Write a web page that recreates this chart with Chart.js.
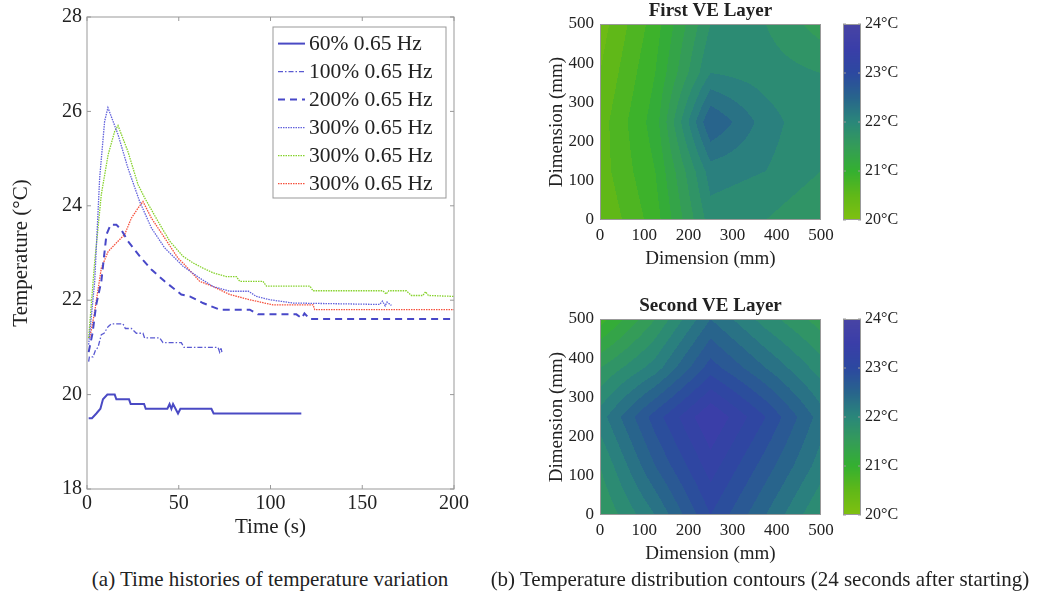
<!DOCTYPE html>
<html>
<head>
<meta charset="utf-8">
<script src="https://cdn.jsdelivr.net/npm/chart.js@4.4.1/dist/chart.umd.min.js"></script>
<style>
  body { margin: 0; background: #fff; width: 1039px; height: 596px; position: relative; overflow: hidden; font-family: "Liberation Serif", serif; }
  canvas { position: absolute; }
  .cap { position: absolute; top: 568px; font-size: 21px; line-height: 22px; color: #222; white-space: nowrap; transform: translateX(-50%); }
</style>
</head>
<body>
<canvas id="timeChart" width="480" height="540" style="left:0;top:0"></canvas>
<canvas id="layer1" width="310" height="280" style="left:530px;top:0"></canvas>
<canvas id="bar1" width="80" height="280" style="left:835px;top:0"></canvas>
<canvas id="layer2" width="310" height="280" style="left:530px;top:295px"></canvas>
<canvas id="bar2" width="80" height="280" style="left:835px;top:295px"></canvas>
<div class="cap" style="left:270px">(a) Time histories of temperature variation</div>
<div class="cap" style="left:760px">(b) Temperature distribution contours (24 seconds after starting)</div>
<script>
// ---- (a) time histories ----
var seriesLabels = ['60% 0.65 Hz', '100% 0.65 Hz', '200% 0.65 Hz', '300% 0.65 Hz', '300% 0.65 Hz', '300% 0.65 Hz'];

var s60Time = [0.9, 2.7, 5.1, 7.3, 8.7, 11.1, 15.1, 16.0, 22.9, 23.8, 31.1, 32.0, 43.8, 45.0, 46.0, 46.9, 49.6, 50.9, 67.8, 69.0, 116.8];
var s60Temp = [19.5, 19.5, 19.6, 19.7, 19.9, 20.0, 20.0, 19.9, 19.9, 19.8, 19.8, 19.7, 19.7, 19.8, 19.7, 19.8, 19.6, 19.7, 19.7, 19.6, 19.6];

var s100Time = [0.9, 1.3, 3.3, 4.7, 6.0, 7.8, 9.3, 11.5, 13.3, 19.6, 20.9, 24.2, 26.9, 30.5, 31.4, 39.6, 41.4, 51.4, 52.9, 71.4, 72.3, 73.0, 73.5];
var s100Temp = [20.7, 20.8, 20.8, 20.95, 21.0, 21.27, 21.3, 21.44, 21.5, 21.5, 21.4, 21.4, 21.3, 21.3, 21.2, 21.2, 21.1, 21.1, 21.0, 21.0, 20.9, 21.0, 20.9];

var s200Time = [0.9, 3.0, 5.0, 7.8, 10.6, 12.9, 16.0, 18.7, 22.3, 29.6, 35.1, 42.3, 46.9, 51.4, 56.0, 63.2, 72.3, 88.7, 93.2, 114.1, 117.0, 118.5, 121.4, 199.0, 200];
var s200Temp = [20.9, 21.3, 21.9, 22.4, 23.39, 23.6, 23.6, 23.49, 23.25, 22.89, 22.65, 22.4, 22.26, 22.12, 22.08, 21.94, 21.8, 21.8, 21.7, 21.7, 21.62, 21.72, 21.6, 21.6, 21.55];

var s300aTime = [0.9, 4.2, 6.9, 9.6, 11.4, 16.9, 22.3, 28.7, 35.1, 42.3, 52.3, 61.4, 68.7, 77.8, 88.0, 92.3, 99.6, 112.3, 159.5, 161.0, 162.5, 163.5, 165.9];
var s300aTemp = [21.06, 22.4, 24.59, 25.79, 26.08, 25.51, 24.8, 24.09, 23.53, 23.11, 22.72, 22.47, 22.29, 22.19, 22.19, 22.08, 22.01, 21.94, 21.91, 21.98, 21.88, 21.96, 21.89];

var s300bTime = [0.9, 4.2, 7.8, 11.5, 15.1, 16.9, 22.3, 27.8, 31.4, 38.7, 45.1, 52.3, 57.8, 63.2, 68.7, 76.0, 81.4, 83.2, 95.9, 97.8, 121.4, 123.2, 161.3, 163.0, 164.5, 174.0, 176.8, 183.0, 184.5, 186.0, 200];
var s300bTemp = [21.2, 22.82, 24.24, 25.08, 25.58, 25.7, 25.15, 24.45, 24.17, 23.67, 23.25, 22.93, 22.79, 22.68, 22.58, 22.5, 22.5, 22.4, 22.4, 22.3, 22.3, 22.2, 22.2, 22.13, 22.2, 22.2, 22.1, 22.1, 22.18, 22.1, 22.08];

var s300cTime = [1.5, 4.2, 7.8, 11.5, 16.9, 20.5, 24.2, 27.8, 30.5, 35.1, 42.3, 49.6, 52.3, 61.4, 68.7, 77.8, 88.7, 101.4, 123.2, 124.1, 200];
var s300cTemp = [21.2, 21.76, 22.68, 23.03, 23.25, 23.39, 23.74, 23.95, 24.09, 23.74, 23.32, 22.89, 22.79, 22.4, 22.29, 22.12, 22.01, 21.9, 21.9, 21.8, 21.8];

var timeTicks = [0, 50, 100, 150, 200];
var tempTicks = [18, 20, 22, 24, 26, 28];

// ---- (b) contour node temperatures, rows from y = 0 up to y = 500 ----
var gridDims = [0, 125, 250, 375, 500];
var layer1Temps = [
    [20.4, 20.9, 21.9, 21.8, 21.6],
    [20.5, 21.0, 22.1, 22.0, 21.8],
    [20.5, 21.1, 22.6, 22.1, 21.8],
    [20.4, 21.0, 22.0, 21.9, 21.8],
    [20.3, 20.9, 21.8, 21.8, 21.5]
];
var layer2Temps = [
    [21.6, 22.2, 23.0, 22.4, 21.8],
    [21.8, 22.6, 23.3, 22.7, 22.1],
    [22.1, 22.9, 23.6, 23.0, 22.3],
    [21.6, 22.1, 22.9, 22.4, 21.9],
    [20.9, 21.6, 22.4, 21.9, 21.5]
];
var dimTicks = [0, 100, 200, 300, 400, 500];
var barTicks = [20, 21, 22, 23, 24];

// colour map (style)
var cmapTemps = [20, 20.5, 21, 21.5, 22, 22.5, 23, 23.5, 24];
var cmapRGB = [[128,192,16],[96,184,24],[52,176,48],[52,156,88],[42,135,122],[40,100,140],[44,72,160],[58,62,168],[72,68,164]];

var FONT = '"Liberation Serif", serif';
var TEXT = '#222';
var FRAME = '#999';

function tempColor(t) {
    if (t <= cmapTemps[0]) t = cmapTemps[0];
    if (t >= cmapTemps[cmapTemps.length - 1]) t = cmapTemps[cmapTemps.length - 1] - 1e-6;
    for (var i = 0; i < cmapTemps.length - 1; i++) {
        if (t >= cmapTemps[i] && t <= cmapTemps[i + 1]) {
            var f = (t - cmapTemps[i]) / (cmapTemps[i + 1] - cmapTemps[i]);
            var a = cmapRGB[i], b = cmapRGB[i + 1];
            return 'rgb(' + Math.round(a[0] + (b[0] - a[0]) * f) + ',' +
                Math.round(a[1] + (b[1] - a[1]) * f) + ',' +
                Math.round(a[2] + (b[2] - a[2]) * f) + ')';
        }
    }
}

function cellIndex(v) {
    for (var i = 0; i < gridDims.length - 2; i++) {
        if (v < gridDims[i + 1]) return i;
    }
    return gridDims.length - 2;
}

function nodeTemp(temps, x, y) {
    var i = cellIndex(x), j = cellIndex(y);
    var fx = (x - gridDims[i]) / (gridDims[i + 1] - gridDims[i]);
    var fy = (y - gridDims[j]) / (gridDims[j + 1] - gridDims[j]);
    var a = temps[j][i], b = temps[j][i + 1], c = temps[j + 1][i], d = temps[j + 1][i + 1];
    return a * (1 - fx) * (1 - fy) + b * fx * (1 - fy) + c * (1 - fx) * fy + d * fx * fy;
}

function toPoints(xs, ys) {
    return xs.map(function (x, i) { return {x: x, y: ys[i]}; });
}

function fixTicks(values) {
    return function (scale) {
        scale.ticks = values.map(function (v) { return {value: v}; });
    };
}

// ---- plugins ----
var timeFrame = {
    id: 'timeFrame',
    afterDatasetsDraw: function (chart) {
        var ctx = chart.ctx, a = chart.chartArea, sx = chart.scales.x, sy = chart.scales.y;
        ctx.save();
        ctx.strokeStyle = FRAME;
        ctx.lineWidth = 1;
        ctx.strokeRect(a.left, a.top, a.right - a.left, a.bottom - a.top);
        ctx.beginPath();
        timeTicks.forEach(function (v) {
            var x = sx.getPixelForValue(v);
            ctx.moveTo(x, a.bottom); ctx.lineTo(x, a.bottom - 4);
            ctx.moveTo(x, a.top); ctx.lineTo(x, a.top + 4);
        });
        tempTicks.forEach(function (v) {
            var y = sy.getPixelForValue(v);
            ctx.moveTo(a.left, y); ctx.lineTo(a.left + 4, y);
            ctx.moveTo(a.right, y); ctx.lineTo(a.right - 4, y);
        });
        ctx.stroke();

        // legend box in the upper right corner
        var bw = 173, bh = 171;
        var bx = a.right - 8 - bw, by = a.top + 10;
        ctx.fillStyle = '#fff';
        ctx.fillRect(bx, by, bw, bh);
        ctx.strokeRect(bx, by, bw, bh);
        ctx.font = '21.5px ' + FONT;
        ctx.textBaseline = 'middle';
        chart.data.datasets.forEach(function (ds, i) {
            var y = by + 16.6 + i * 28;
            ctx.save();
            ctx.strokeStyle = ds.borderColor;
            ctx.lineWidth = ds.borderWidth;
            ctx.setLineDash(ds.borderDash || []);
            ctx.beginPath();
            ctx.moveTo(bx + 5, y);
            ctx.lineTo(bx + 32, y);
            ctx.stroke();
            ctx.restore();
            ctx.fillStyle = TEXT;
            ctx.fillText(ds.label, bx + 36, y + 1);
        });
        ctx.restore();
    }
};

var contourFill = {
    id: 'contourFill',
    beforeDatasetsDraw: function (chart) {
        var temps = chart.options.plugins.contourFill.temps;
        var ctx = chart.ctx, a = chart.chartArea, sx = chart.scales.x, sy = chart.scales.y;
        ctx.save();
        for (var px = Math.floor(a.left); px < Math.ceil(a.right); px++) {
            var xv = Math.min(500, Math.max(0, sx.getValueForPixel(px + 0.5)));
            for (var py = Math.floor(a.top); py < Math.ceil(a.bottom); py++) {
                var yv = Math.min(500, Math.max(0, sy.getValueForPixel(py + 0.5)));
                var t = nodeTemp(temps, xv, yv);
                var band = 20 + (Math.floor((t - 20) / 0.2) + 0.5) * 0.2;
                ctx.fillStyle = tempColor(band);
                ctx.fillRect(px, py, 1, 1);
            }
        }
        ctx.strokeStyle = FRAME;
        ctx.lineWidth = 1;
        ctx.strokeRect(Math.round(a.left) + 0.5, Math.round(a.top) + 0.5, Math.round(a.right - a.left) - 1, Math.round(a.bottom - a.top) - 1);
        ctx.restore();
    }
};

var barFill = {
    id: 'barFill',
    beforeDatasetsDraw: function (chart) {
        var ctx = chart.ctx, a = chart.chartArea, sy = chart.scales.y;
        ctx.save();
        for (var py = Math.floor(a.top); py < Math.ceil(a.bottom); py++) {
            ctx.fillStyle = tempColor(sy.getValueForPixel(py + 0.5));
            ctx.fillRect(a.left, py, a.right - a.left, 1);
        }
        ctx.strokeStyle = FRAME;
        ctx.lineWidth = 1;
        ctx.strokeRect(a.left + 0.5, a.top + 0.5, a.right - a.left - 1, a.bottom - a.top - 1);
        ctx.beginPath();
        barTicks.forEach(function (v) {
            var y = sy.getPixelForValue(v);
            ctx.moveTo(a.left, y); ctx.lineTo(a.left + 3, y);
            ctx.moveTo(a.right, y); ctx.lineTo(a.right - 3, y);
        });
        ctx.stroke();
        ctx.restore();
    }
};

// ---- (a) chart ----
new Chart(document.getElementById('timeChart').getContext('2d'), {
    type: 'line',
    data: {
        datasets: [
            {label: seriesLabels[0], data: toPoints(s60Time, s60Temp), borderColor: '#4a4ac4', borderWidth: 2, borderDash: []},
            {label: seriesLabels[1], data: toPoints(s100Time, s100Temp), borderColor: '#5a5ad2', borderWidth: 1.3, borderDash: [5, 2, 1.5, 2]},
            {label: seriesLabels[2], data: toPoints(s200Time, s200Temp), borderColor: '#4848c8', borderWidth: 2, borderDash: [7, 5]},
            {label: seriesLabels[3], data: toPoints(s300aTime, s300aTemp), borderColor: '#6262dc', borderWidth: 1.3, borderDash: [1.5, 1]},
            {label: seriesLabels[4], data: toPoints(s300bTime, s300bTemp), borderColor: '#86d22c', borderWidth: 1.3, borderDash: [1.5, 1]},
            {label: seriesLabels[5], data: toPoints(s300cTime, s300cTemp), borderColor: '#f5503c', borderWidth: 1.3, borderDash: [1.5, 1]}
        ]
    },
    options: {
        responsive: false,
        animation: false,
        devicePixelRatio: 1,
        layout: {padding: {left: 0, top: 17, right: 26, bottom: 0}},
        elements: {point: {radius: 0}, line: {tension: 0, fill: false}},
        plugins: {legend: {display: false}, tooltip: {enabled: false}},
        scales: {
            x: {
                type: 'linear', min: 0, max: 200,
                afterBuildTicks: fixTicks(timeTicks),
                afterFit: function (s) { s.height = 51; },
                grid: {display: false, drawTicks: false},
                border: {display: false},
                ticks: {padding: 3, color: TEXT, font: {family: FONT, size: 20}, maxRotation: 0},
                title: {display: true, text: 'Time (s)', color: TEXT, font: {family: FONT, size: 21}, padding: {top: 0, bottom: 0}}
            },
            y: {
                type: 'linear', min: 18, max: 28,
                afterBuildTicks: fixTicks(tempTicks),
                afterFit: function (s) { s.width = 87; },
                grid: {display: false, drawTicks: false},
                border: {display: false},
                ticks: {padding: 5, color: TEXT, font: {family: FONT, size: 20}},
                title: {display: true, text: 'Temperature (°C)', color: TEXT, font: {family: FONT, size: 21}, padding: {top: 9, bottom: 0}}
            }
        }
    },
    plugins: [timeFrame]
});

// ---- (b) contour charts ----
function contourChart(id, title, temps) {
    var nodes = [];
    temps.forEach(function (row, j) {
        row.forEach(function (t, i) { nodes.push({x: gridDims[i], y: gridDims[j], t: t}); });
    });
    return new Chart(document.getElementById(id).getContext('2d'), {
        type: 'scatter',
        data: {datasets: [{data: nodes, pointRadius: 0, showLine: false}]},
        options: {
            responsive: false,
            animation: false,
            devicePixelRatio: 1,
            layout: {padding: {left: 0, top: 0, right: 19, bottom: 0}},
            plugins: {
                legend: {display: false},
                tooltip: {enabled: false},
                title: {display: true, fullSize: false, text: title, color: TEXT, font: {family: FONT, size: 19, weight: 'bold'}, padding: {top: 0, bottom: 1.2}},
                contourFill: {temps: temps}
            },
            scales: {
                x: {
                    type: 'linear', min: 0, max: 500,
                    afterBuildTicks: fixTicks(dimTicks),
                    afterFit: function (s) { s.height = 60; },
                    grid: {display: false, drawTicks: false},
                    border: {display: false},
                    ticks: {padding: 5, color: TEXT, font: {family: FONT, size: 17}, maxRotation: 0},
                    title: {display: true, text: 'Dimension (mm)', color: TEXT, font: {family: FONT, size: 19}, padding: {top: 0, bottom: 10}}
                },
                y: {
                    type: 'linear', min: 0, max: 500,
                    afterBuildTicks: fixTicks(dimTicks),
                    afterFit: function (s) { s.width = 70; },
                    grid: {display: false, drawTicks: false},
                    border: {display: false},
                    ticks: {padding: 6, color: TEXT, font: {family: FONT, size: 17}},
                    title: {display: true, text: 'Dimension (mm)', color: TEXT, font: {family: FONT, size: 19}, padding: {top: 16, bottom: 0}}
                }
            }
        },
        plugins: [contourFill]
    });
}

function colorBar(id) {
    return new Chart(document.getElementById(id).getContext('2d'), {
        type: 'scatter',
        data: {datasets: [{data: barTicks.map(function (v) { return {x: 0.5, y: v}; }), pointRadius: 0}]},
        options: {
            responsive: false,
            animation: false,
            devicePixelRatio: 1,
            layout: {padding: {left: 8, top: 24, right: 0, bottom: 60}},
            plugins: {legend: {display: false}, tooltip: {enabled: false}},
            scales: {
                x: {type: 'linear', min: 0, max: 1, display: false},
                y: {
                    type: 'linear', position: 'right', min: 20, max: 24,
                    afterBuildTicks: fixTicks(barTicks),
                    afterFit: function (s) { s.width = 54; },
                    grid: {display: false, drawTicks: false},
                    border: {display: false},
                    ticks: {padding: 4, color: TEXT, font: {family: FONT, size: 16},
                        callback: function (v) { return v + '°C'; }}
                }
            }
        },
        plugins: [barFill]
    });
}

contourChart('layer1', 'First VE Layer', layer1Temps);
colorBar('bar1');
contourChart('layer2', 'Second VE Layer', layer2Temps);
colorBar('bar2');
</script>
</body>
</html>
